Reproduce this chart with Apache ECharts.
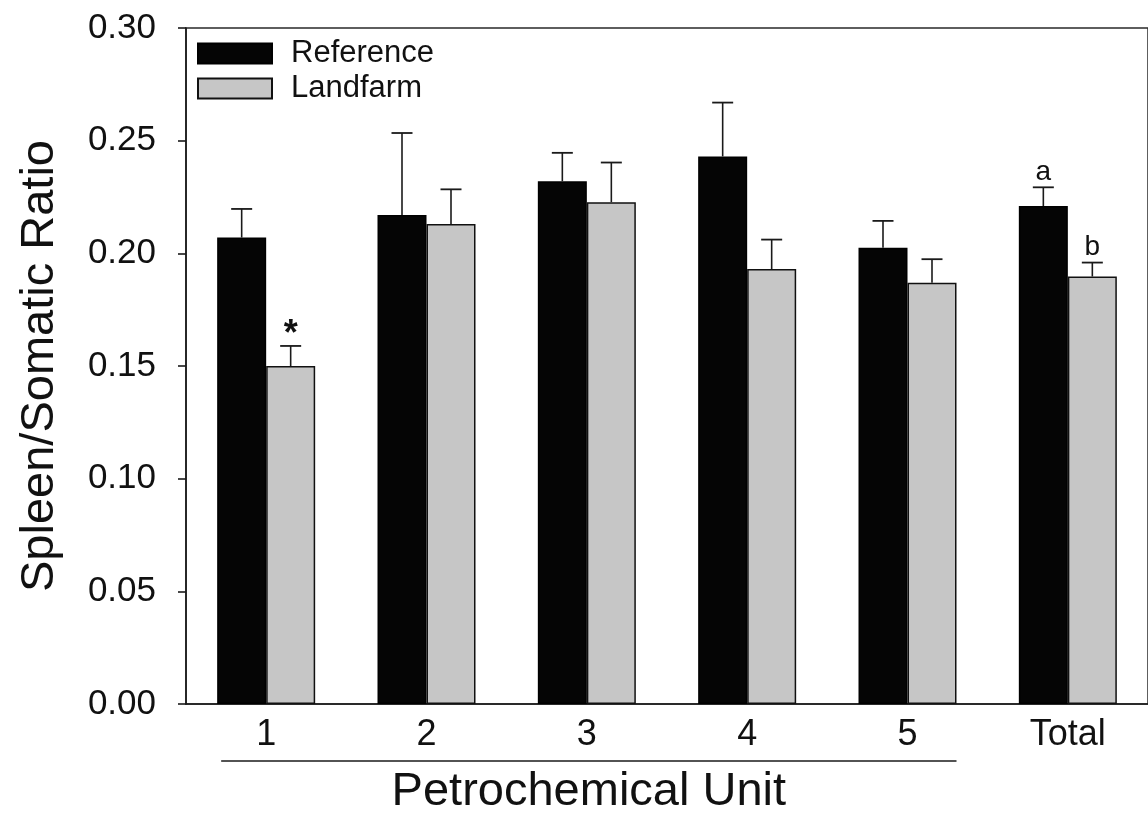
<!DOCTYPE html>
<html>
<head>
<meta charset="utf-8">
<script src="https://cdn.jsdelivr.net/npm/echarts@6/dist/echarts.min.js"></script>
<style>
  html, body { margin: 0; padding: 0; background: #ffffff; }
  #chart { width: 1148px; height: 818px; }
</style>
</head>
<body>
<div id="chart"></div>
<script>
// Spleen/somatic ratio by petrochemical unit (mean + SE)
const categories = ['1', '2', '3', '4', '5', 'Total'];
const referenceMean = [0.207, 0.217, 0.232, 0.243, 0.2025, 0.221];
const referenceErr  = [0.0127, 0.0364, 0.0126, 0.0239, 0.0119, 0.0083];
const landfarmMean  = [0.150, 0.213, 0.2227, 0.193, 0.187, 0.1897];
const landfarmErr   = [0.0089, 0.0154, 0.0176, 0.0131, 0.0104, 0.0062];
// significance marks drawn above the error caps
const referenceMarks = ['', '', '', '', '', 'a'];
const landfarmMarks  = ['*', '', '', '', '', 'b'];
const yTicks = [0, 0.05, 0.10, 0.15, 0.20, 0.25, 0.30];

const FONT = '"Liberation Sans", Arial, Helvetica, sans-serif';
const BAR_W = 49;
const INK = '#1a1a1a';

const chart = echarts.init(document.getElementById('chart'), null, { renderer: 'canvas' });

function errorSeries(name, mean, err, marks, side) {
  return {
    name: name,
    type: 'custom',
    z: 5,
    silent: true,
    data: mean.map((m, i) => [i, m, err[i]]),
    encode: { x: 0, y: [1] },
    renderItem: function (params, api) {
      const i = api.value(0);
      const m = api.value(1);
      const e = api.value(2);
      const base = api.coord([i, m]);
      const top = api.coord([i, m + e]);
      const x = base[0] + side * BAR_W / 2;
      const children = [
        { type: 'line', shape: { x1: x, y1: base[1], x2: x, y2: top[1] },
          style: { stroke: INK, lineWidth: 1.6 } },
        { type: 'line', shape: { x1: x - 10.5, y1: top[1], x2: x + 10.5, y2: top[1] },
          style: { stroke: INK, lineWidth: 1.8 } }
      ];
      const mark = marks[params.dataIndex];
      if (mark) {
        const star = mark === '*';
        children.push({
          type: 'text',
          style: {
            x: x, y: top[1] + (star ? 7 : -1),
            text: mark,
            fill: '#111',
            font: (star ? 'bold 36px ' : '28px ') + FONT,
            textAlign: 'center',
            textVerticalAlign: 'bottom'
          }
        });
      }
      return { type: 'group', children: children };
    }
  };
}

const option = {
  backgroundColor: '#ffffff',
  animation: false,
  grid: {
    left: 186, top: 28, right: 0, bottom: 114,
    show: true, borderColor: '#2a2a2a', borderWidth: 1.5
  },
  legend: {
    data: ['Reference', 'Landfarm'],
    orient: 'vertical',
    left: 197, top: 38,
    padding: 0,
    itemWidth: 74, itemHeight: 20, itemGap: 4,
    icon: 'rect',
    textStyle: { fontFamily: FONT, fontSize: 31, color: '#111', padding: [0, 0, 0, 14] }
  },
  xAxis: {
    type: 'category',
    data: categories,
    axisLine: { lineStyle: { color: INK, width: 1.6 } },
    axisTick: { show: false },
    axisLabel: { fontFamily: FONT, fontSize: 36, color: '#111', margin: 13 }
  },
  yAxis: {
    type: 'value',
    min: 0, max: 0.30, interval: 0.05,
    name: 'Spleen/Somatic Ratio',
    nameLocation: 'middle',
    nameGap: 122,
    nameTextStyle: { fontFamily: FONT, fontSize: 47, color: '#111' },
    axisLine: { show: true, lineStyle: { color: INK, width: 1.6 } },
    axisTick: { show: true, length: 8, lineStyle: { color: INK, width: 1.6 } },
    splitLine: { show: false },
    axisLabel: {
      fontFamily: FONT, fontSize: 35, color: '#111', margin: 30,
      formatter: v => yTicks.includes(Math.round(v * 100) / 100) ? v.toFixed(2) : ''
    }
  },
  series: [
    {
      name: 'Reference', type: 'bar',
      data: referenceMean,
      barWidth: BAR_W, barGap: '0%',
      itemStyle: { color: '#050505', borderColor: '#000', borderWidth: 1.5 }
    },
    {
      name: 'Landfarm', type: 'bar',
      data: landfarmMean,
      barWidth: BAR_W, barGap: '0%',
      itemStyle: { color: '#c6c6c6', borderColor: '#111', borderWidth: 1.5 }
    },
    errorSeries('Reference SE', referenceMean, referenceErr, referenceMarks, -1),
    errorSeries('Landfarm SE', landfarmMean, landfarmErr, landfarmMarks, 1)
  ]
};

chart.setOption(option);

// bracket under units 1-5 and the axis title centred on it
const c0 = chart.convertToPixel({ xAxisIndex: 0 }, 0);
const c4 = chart.convertToPixel({ xAxisIndex: 0 }, 4);
const bx1 = c0 - 45;
const bx2 = c4 + BAR_W;
chart.setOption({
  graphic: [
    { type: 'line', shape: { x1: bx1, y1: 761, x2: bx2, y2: 761 },
      style: { stroke: INK, lineWidth: 1.6 } },
    { type: 'text', x: (bx1 + bx2) / 2, y: 792,
      style: { text: 'Petrochemical Unit', font: '47px ' + FONT, fill: '#111',
               textAlign: 'center', textVerticalAlign: 'middle' } }
  ]
});
</script>
</body>
</html>
